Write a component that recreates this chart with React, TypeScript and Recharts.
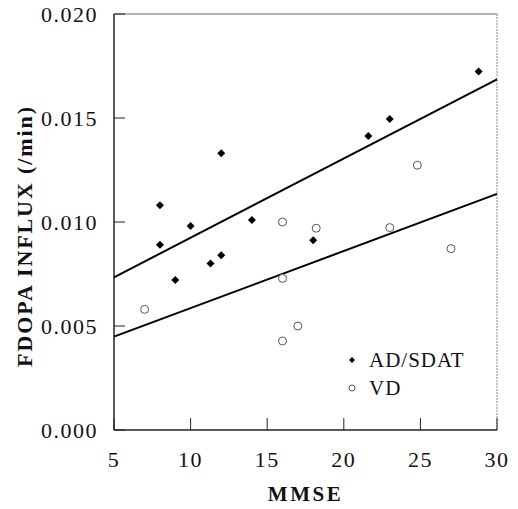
import { Legend, ReferenceLine, Scatter, ScatterChart, XAxis, YAxis } from "recharts"

// MMSE score and FDOPA influx for each group
const adMmse = [8, 8, 9, 10, 11.3, 12, 12, 14, 18, 21.6, 23, 28.8]
const adInflux = [0.0108, 0.00891, 0.00721, 0.00981, 0.00801, 0.0133, 0.0084, 0.0101, 0.00912, 0.01413, 0.01495, 0.01724]
const vdMmse = [7, 16, 16, 16, 17, 18.2, 23, 24.8, 27]
const vdInflux = [0.0058, 0.01, 0.00729, 0.00428, 0.005, 0.0097, 0.00973, 0.01273, 0.00872]

// regression line end points
const fitX = [5, 30]
const adFitY = [0.00734, 0.01686]
const vdFitY = [0.00449, 0.01135]

const xTicks = [5, 10, 15, 20, 25, 30]
const yTicks = [0, 0.005, 0.01, 0.015, 0.02]
const seriesNames = ["AD/SDAT", "VD"]

const adData = adMmse.map((x, i) => ({ x, y: adInflux[i] }))
const vdData = vdMmse.map((x, i) => ({ x, y: vdInflux[i] }))
const adFit = fitX.map((x, i) => ({ x, y: adFitY[i] }))
const vdFit = fitX.map((x, i) => ({ x, y: vdFitY[i] }))

const serif = "Liberation Serif"
const tickStyle = { fontFamily: serif, fontSize: 22, fill: "#111", letterSpacing: 1.5 }
const titleStyle = { fontFamily: serif, fontSize: 22, fontWeight: "bold", fill: "#111" }

const Diamond = (props: any) => {
  const { cx, cy } = props
  const r = 4
  return <path d={`M${cx},${cy - r}L${cx + r},${cy}L${cx},${cy + r}L${cx - r},${cy}Z`} fill="#000" />
}

const Ring = (props: any) => {
  const { cx, cy } = props
  return <circle cx={cx} cy={cy} r={4} fill="#fff" stroke="#555" strokeWidth={1} />
}

const Nothing = () => <g />

function LegendBox() {
  return (
    <div style={{ fontFamily: serif, fontSize: 21, lineHeight: "28px", color: "#111", letterSpacing: 1 }}>
      {seriesNames.map((name, i) => (
        <div key={name} style={{ display: "flex", alignItems: "center" }}>
          <svg width={16} height={12} style={{ marginRight: 9 }}>
            {i === 0 ? (
              <path d="M8,3L11,6L8,9L5,6Z" fill="#000" />
            ) : (
              <circle cx={8} cy={6} r={3} fill="#fff" stroke="#555" strokeWidth={1} />
            )}
          </svg>
          <span>{name}</span>
        </div>
      ))}
    </div>
  )
}

export default function App() {
  return (
    <div style={{ position: "fixed", left: 0, top: 0, background: "#fff" }}>
      <ScatterChart width={518} height={509} margin={{ top: 14, right: 21, bottom: 0, left: 0 }}>
        <XAxis
          type="number"
          dataKey="x"
          domain={[5, 30]}
          ticks={xTicks}
          height={79}
          tickSize={-12}
          tickMargin={33}
          tick={tickStyle}
          axisLine={{ stroke: "#222", strokeWidth: 1.5 }}
          tickLine={{ stroke: "#222" }}
          label={{
            value: "MMSE",
            position: "center",
            dy: 24,
            dx: 0,
            style: { ...titleStyle, fontSize: 21, letterSpacing: 2.5 },
          }}
        />
        <YAxis
          type="number"
          dataKey="y"
          domain={[0, 0.02]}
          ticks={yTicks}
          width={114}
          tickSize={-11}
          tickMargin={27}
          tick={tickStyle}
          tickFormatter={(v: number) => v.toFixed(3)}
          axisLine={{ stroke: "#222", strokeWidth: 1.5 }}
          tickLine={{ stroke: "#222" }}
          label={{
            value: "FDOPA INFLUX (/min)",
            angle: -90,
            position: "center",
            dx: -33,
            dy: 14,
            style: { ...titleStyle, letterSpacing: 1.9 },
          }}
        />
        <ReferenceLine y={0.02} stroke="#666" strokeWidth={1} />
        <ReferenceLine x={30} stroke="#888" strokeWidth={1} strokeDasharray="2 1" />
        <Scatter data={adFit} line={{ stroke: "#000", strokeWidth: 2 }} shape={Nothing} legendType="none" isAnimationActive={false} />
        <Scatter data={vdFit} line={{ stroke: "#000", strokeWidth: 2 }} shape={Nothing} legendType="none" isAnimationActive={false} />
        <Scatter name={seriesNames[0]} data={adData} shape={Diamond} isAnimationActive={false} />
        <Scatter name={seriesNames[1]} data={vdData} shape={Ring} isAnimationActive={false} />
        <Legend
          layout="vertical"
          align="center"
          verticalAlign="middle"
          content={LegendBox}
          wrapperStyle={{ left: 344, top: 346, width: "auto" }}
        />
      </ScatterChart>
    </div>
  )
}
